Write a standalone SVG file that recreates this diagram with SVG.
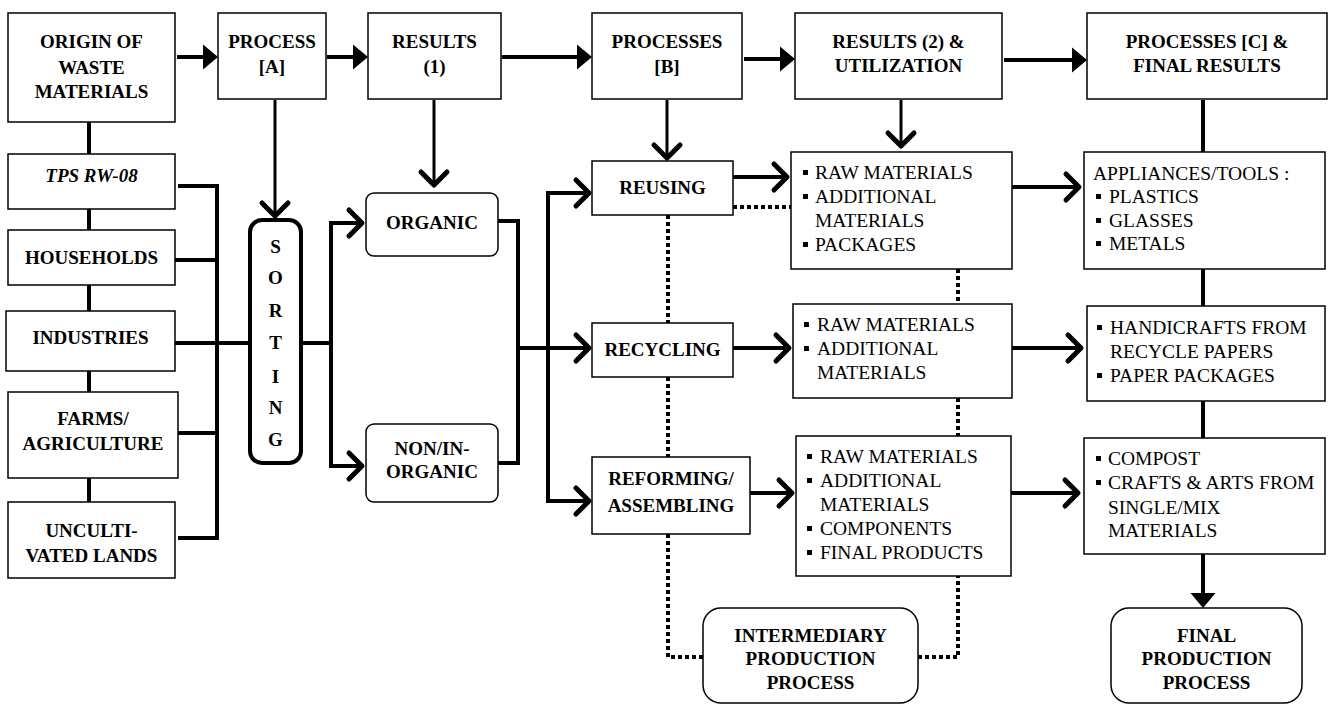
<svg xmlns="http://www.w3.org/2000/svg" width="1330" height="706" viewBox="0 0 1330 706">
  <style>
    .box { fill: #fff; stroke: #000; stroke-width: 1.5; }
    .sort { fill: #fff; stroke: #000; stroke-width: 4; }
    .b { font-family: "Liberation Serif", "Times New Roman", serif; font-weight: bold; font-size: 19px; text-anchor: middle; fill: #000; }
    .bi { font-style: italic; }
    .n { font-family: "Liberation Serif", "Times New Roman", serif; font-size: 19.5px; fill: #000; }
    .ln { fill: none; stroke: #000; stroke-width: 4; }
    .thin { stroke-width: 3; }
    .dot { fill: none; stroke: #000; stroke-width: 4; stroke-dasharray: 4 3; }
    .bul { fill: #000; }
  </style>
  <defs>
    <!-- solid triangular head -->
    <marker id="tri" markerUnits="userSpaceOnUse" markerWidth="20" markerHeight="30" refX="0" refY="0" orient="auto" overflow="visible">
      <path d="M-7,-12.5 L8,0 L-7,12.5 Z" fill="#000"/>
    </marker>
    <!-- open chevron head -->
    <marker id="chev" markerUnits="userSpaceOnUse" markerWidth="20" markerHeight="30" refX="0" refY="0" orient="auto" overflow="visible">
      <path d="M-13,-13 L0,0 L-13,13" fill="none" stroke="#000" stroke-width="5" stroke-linecap="round" stroke-linejoin="round"/>
    </marker>
    <rect id="sq" width="5" height="5"/>
  </defs>

  <!-- connectors -->
  <g id="connectors">
    <!-- top row flow -->
    <path class="ln" d="M177,57 H210" marker-end="url(#tri)"/>
    <path class="ln" d="M327,57 H360" marker-end="url(#tri)"/>
    <path class="ln" d="M502,57 H584" marker-end="url(#tri)"/>
    <path class="ln" d="M744,59 H787" marker-end="url(#tri)"/>
    <path class="ln" d="M1004,60 H1079" marker-end="url(#tri)"/>

    <!-- drops from top row -->
    <path class="ln thin" d="M275,100 V216" marker-end="url(#chev)"/>
    <path class="ln thin" d="M434,100 V185" marker-end="url(#chev)"/>
    <path class="ln thin" d="M667,100 V158" marker-end="url(#chev)"/>
    <path class="ln thin" d="M901,100 V146" marker-end="url(#chev)"/>

    <!-- right column spine -->
    <path class="ln" d="M1203,100 V152"/>
    <path class="ln" d="M1203,269 V306"/>
    <path class="ln" d="M1203,401 V438"/>
    <path class="ln" d="M1203,554 V600" marker-end="url(#tri)"/>

    <!-- sources column -->
    <path class="ln" d="M89,122 V154 M89,209 V230 M89,285 V311 M89,371 V392 M89,478 V502"/>
    <path class="ln" d="M178,186 H217 V538 H178"/>
    <path class="ln" d="M175,260 H217 M178,433 H217 M175,343 H250"/>

    <!-- sorting outputs -->
    <path class="ln" d="M301,343 H331"/>
    <path class="ln" d="M331,345 V223 H362" marker-end="url(#chev)"/>
    <path class="ln" d="M331,341 V466 H362" marker-end="url(#chev)"/>

    <!-- organic / non-organic merge -->
    <path class="ln" d="M498,221 H518 V463 H498"/>
    <path class="ln" d="M518,348 H589" marker-end="url(#chev)"/>
    <path class="ln" d="M548,350 V193 H589" marker-end="url(#chev)"/>
    <path class="ln" d="M548,346 V501 H589" marker-end="url(#chev)"/>

    <!-- processes to results -->
    <path class="ln" d="M733,177 H787" marker-end="url(#chev)"/>
    <path class="ln" d="M733,348 H789" marker-end="url(#chev)"/>
    <path class="ln" d="M750,493 H792" marker-end="url(#chev)"/>
    <path class="ln" d="M1012,187 H1079" marker-end="url(#chev)"/>
    <path class="ln" d="M1012,348 H1081" marker-end="url(#chev)"/>
    <path class="ln" d="M1011,493 H1078" marker-end="url(#chev)"/>

    <!-- intermediary links -->
    <path class="dot" d="M733,207 H791"/>
    <path class="dot" d="M668,215 V323"/>
    <path class="dot" d="M668,377 V457"/>
    <path class="dot" d="M668,534 V657 H703"/>
    <path class="dot" d="M918,657 H958 V576"/>
    <path class="dot" d="M958,269 V304"/>
    <path class="dot" d="M958,398 V436"/>
  </g>

  <!-- header row -->
  <g id="origin">
    <rect class="box" x="8" y="13" width="167" height="109"/>
    <text class="b" x="91.5" y="48">ORIGIN OF</text>
    <text class="b" x="91.5" y="74">WASTE</text>
    <text class="b" x="91.5" y="98">MATERIALS</text>
  </g>
  <g id="process-a">
    <rect class="box" x="218" y="13" width="108" height="86"/>
    <text class="b" x="272" y="48">PROCESS</text>
    <text class="b" x="272" y="73">[A]</text>
  </g>
  <g id="results-1">
    <rect class="box" x="368" y="13" width="133" height="86"/>
    <text class="b" x="434.5" y="48">RESULTS</text>
    <text class="b" x="434.5" y="73">(1)</text>
  </g>
  <g id="processes-b">
    <rect class="box" x="592" y="13" width="150" height="86"/>
    <text class="b" x="667" y="48">PROCESSES</text>
    <text class="b" x="667" y="73">[B]</text>
  </g>
  <g id="results-2">
    <rect class="box" x="795" y="13" width="207" height="86"/>
    <text class="b" x="898.5" y="48">RESULTS (2) &amp;</text>
    <text class="b" x="898.5" y="72">UTILIZATION</text>
  </g>
  <g id="processes-c">
    <rect class="box" x="1087" y="13" width="240" height="86"/>
    <text class="b" x="1207" y="48">PROCESSES [C] &amp;</text>
    <text class="b" x="1207" y="72">FINAL RESULTS</text>
  </g>

  <!-- sources -->
  <g id="tps">
    <rect class="box" x="8" y="154" width="167" height="55"/>
    <text class="b bi" x="91.5" y="182">TPS RW-08</text>
  </g>
  <g id="households">
    <rect class="box" x="8" y="230" width="167" height="55"/>
    <text class="b" x="91.5" y="264">HOUSEHOLDS</text>
  </g>
  <g id="industries">
    <rect class="box" x="6" y="311" width="169" height="60"/>
    <text class="b" x="90.5" y="344">INDUSTRIES</text>
  </g>
  <g id="farms">
    <rect class="box" x="8" y="392" width="170" height="86"/>
    <text class="b" x="93" y="425">FARMS/</text>
    <text class="b" x="93" y="450">AGRICULTURE</text>
  </g>
  <g id="uncultivated">
    <rect class="box" x="8" y="502" width="167" height="76"/>
    <text class="b" x="91.5" y="537">UNCULTI-</text>
    <text class="b" x="91.5" y="562">VATED LANDS</text>
  </g>

  <!-- sorting -->
  <g id="sorting">
    <rect class="sort" x="250" y="220" width="51" height="243" rx="12"/>
    <text class="b" x="275.5" y="253">S</text>
    <text class="b" x="275.5" y="284">O</text>
    <text class="b" x="275.5" y="317">R</text>
    <text class="b" x="275.5" y="349">T</text>
    <text class="b" x="275.5" y="383">I</text>
    <text class="b" x="275.5" y="414">N</text>
    <text class="b" x="275.5" y="446">G</text>
  </g>

  <!-- results (1) -->
  <g id="organic">
    <rect class="box" x="366" y="193" width="132" height="63" rx="8"/>
    <text class="b" x="432" y="229">ORGANIC</text>
  </g>
  <g id="non-organic">
    <rect class="box" x="366" y="424" width="132" height="78" rx="8"/>
    <text class="b" x="432" y="455">NON/IN-</text>
    <text class="b" x="432" y="478">ORGANIC</text>
  </g>

  <!-- processes [B] -->
  <g id="reusing">
    <rect class="box" x="592" y="161" width="141" height="54"/>
    <text class="b" x="662.5" y="194">REUSING</text>
  </g>
  <g id="recycling">
    <rect class="box" x="592" y="323" width="141" height="54"/>
    <text class="b" x="662.5" y="356">RECYCLING</text>
  </g>
  <g id="reforming">
    <rect class="box" x="592" y="457" width="158" height="77"/>
    <text class="b" x="671" y="485">REFORMING/</text>
    <text class="b" x="671" y="512">ASSEMBLING</text>
  </g>

  <!-- results (2) -->
  <g id="reuse-results">
    <rect class="box" x="791" y="152" width="221" height="117"/>
    <use href="#sq" x="803" y="170"/>
    <use href="#sq" x="803" y="194"/>
    <use href="#sq" x="803" y="242"/>
    <text class="n" x="815" y="179">RAW MATERIALS</text>
    <text class="n" x="815" y="203">ADDITIONAL</text>
    <text class="n" x="815" y="227">MATERIALS</text>
    <text class="n" x="815" y="251">PACKAGES</text>
  </g>
  <g id="recycle-results">
    <rect class="box" x="793" y="304" width="219" height="94"/>
    <use href="#sq" x="804" y="322"/>
    <use href="#sq" x="804" y="346"/>
    <text class="n" x="817" y="331">RAW MATERIALS</text>
    <text class="n" x="817" y="355">ADDITIONAL</text>
    <text class="n" x="817" y="379">MATERIALS</text>
  </g>
  <g id="reform-results">
    <rect class="box" x="796" y="436" width="215" height="140"/>
    <use href="#sq" x="807" y="454"/>
    <use href="#sq" x="807" y="478"/>
    <use href="#sq" x="807" y="526"/>
    <use href="#sq" x="807" y="550"/>
    <text class="n" x="820" y="463">RAW MATERIALS</text>
    <text class="n" x="820" y="487">ADDITIONAL</text>
    <text class="n" x="820" y="511">MATERIALS</text>
    <text class="n" x="820" y="535">COMPONENTS</text>
    <text class="n" x="820" y="559">FINAL PRODUCTS</text>
  </g>

  <!-- final results -->
  <g id="appliances">
    <rect class="box" x="1084" y="152" width="241" height="117"/>
    <text class="n" x="1093" y="180">APPLIANCES/TOOLS :</text>
    <use href="#sq" x="1096" y="194"/>
    <use href="#sq" x="1096" y="218"/>
    <use href="#sq" x="1096" y="241"/>
    <text class="n" x="1109" y="203">PLASTICS</text>
    <text class="n" x="1109" y="227">GLASSES</text>
    <text class="n" x="1109" y="250">METALS</text>
  </g>
  <g id="handicrafts">
    <rect class="box" x="1087" y="306" width="238" height="95"/>
    <use href="#sq" x="1097" y="325"/>
    <use href="#sq" x="1097" y="373"/>
    <text class="n" x="1110" y="334">HANDICRAFTS FROM</text>
    <text class="n" x="1110" y="358">RECYCLE PAPERS</text>
    <text class="n" x="1110" y="382">PAPER PACKAGES</text>
  </g>
  <g id="compost">
    <rect class="box" x="1084" y="438" width="241" height="116"/>
    <use href="#sq" x="1096" y="456"/>
    <use href="#sq" x="1096" y="480"/>
    <text class="n" x="1108" y="465">COMPOST</text>
    <text class="n" x="1108" y="489">CRAFTS &amp; ARTS FROM</text>
    <text class="n" x="1108" y="514">SINGLE/MIX</text>
    <text class="n" x="1108" y="537">MATERIALS</text>
  </g>

  <!-- production stages -->
  <g id="intermediary">
    <rect class="box" x="703" y="608" width="215" height="95" rx="18"/>
    <text class="b" x="810.5" y="642">INTERMEDIARY</text>
    <text class="b" x="810.5" y="665">PRODUCTION</text>
    <text class="b" x="810.5" y="689">PROCESS</text>
  </g>
  <g id="final">
    <rect class="box" x="1111" y="608" width="191" height="95" rx="18"/>
    <text class="b" x="1206.5" y="642">FINAL</text>
    <text class="b" x="1206.5" y="665">PRODUCTION</text>
    <text class="b" x="1206.5" y="689">PROCESS</text>
  </g>
</svg>
